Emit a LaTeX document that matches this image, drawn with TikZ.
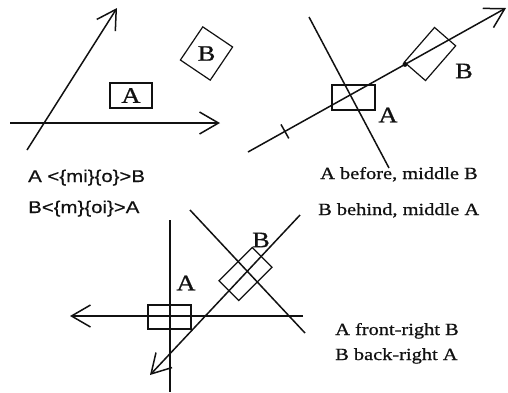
\documentclass[tikz,border=0pt]{standalone}
\usepackage{fontspec}
\setmainfont{Liberation Serif}[FakeStretch=1.2,FakeBold=0.8]
\newfontfamily\relsansfont{Liberation Sans}[FakeStretch=1.2,FakeBold=0.6]
\usetikzlibrary{arrows.meta,calc}
\definecolor{inkblack}{HTML}{111111}
\tikzset{
  axisline/.style={line width=1.5pt, color=inkblack},
  axisarrow/.style={axisline, -{Straight Barb[length=19pt,width=22pt]}},
  objbox/.style={rectangle, draw=inkblack, line width=1.2pt, inner sep=0pt},
  objname/.style={font=\fontsize{22}{24}\selectfont, inner sep=0pt, text=inkblack},
  dotmark/.style={circle, fill=inkblack, inner sep=0pt, minimum size=5pt},
  relnote/.style={font=\fontsize{17}{20}\selectfont, inner sep=0pt,
    anchor=base west, text=inkblack},
  relsans/.style={relnote, font=\relsansfont\fontsize{17}{20}\selectfont},
}

\begin{document}
\begin{tikzpicture}[x=1pt, y=-1pt]
  \useasboundingbox (0,0) rectangle (508,392);

  % first view: A and B apart
  \coordinate (h1s) at (10,123);
  \coordinate (h1e) at (220,123);
  \coordinate (d1s) at (27,150);
  \coordinate (d1e) at (117,8);
  \node[objbox, minimum width=42pt, minimum height=25pt] (a1) at (131,95.5) {};
  \node[objname] (a1l) at (a1) {A};
  \node[objbox, rotate=56, minimum width=40pt, minimum height=36pt] (b1) at (206.5,53.5) {};
  \node[objname] (b1l) at (b1) {B};
  \foreach \a/\b in {h1s/h1e,d1s/d1e}
    \draw[axisarrow] (\a) -- (\b);
  \node[relsans] (r1a) at (28,182) {A <\{mi\}\{o\}>B};
  \node[relsans] (r1b) at (28,213) {B<\{m\}\{oi\}>A};

  % second view: along one axis
  \coordinate (l2s) at (248,152);
  \coordinate (l2e) at (506,8);
  \coordinate (c2s) at (309,17);
  \coordinate (c2e) at (389,168);
  \coordinate (t2) at ($(l2s)!0.143!(l2e)$);
  \coordinate (t2a) at ($(t2)!8pt!90:(l2e)$);
  \coordinate (t2b) at ($(t2)!8pt!-90:(l2e)$);
  \draw[axisarrow] (l2s) -- (l2e);
  \foreach \a/\b in {c2s/c2e,t2a/t2b}
    \draw[axisline] (\a) -- (\b);
  \node[dotmark] (m2) at ($(l2s)!0.6085!(l2e)$) {};
  \node[objbox, minimum width=43pt, minimum height=25pt] (a2) at (353.5,97.5) {};
  \node[objbox, rotate=49, minimum width=46pt, minimum height=28pt] (b2) at (430,54) {};
  \node[objname] (a2l) at (388,115) {A};
  \node[objname] (b2l) at (464,71) {B};
  \node[relnote] (r2a) at (320,179) {A before, middle B};
  \node[relnote] (r2b) at (318,215) {B behind, middle A};

  % third view: front and right
  \coordinate (v3s) at (170,220);
  \coordinate (v3e) at (170,392);
  \coordinate (h3s) at (303,316);
  \coordinate (h3e) at (70,316);
  \coordinate (d3s) at (300,215);
  \coordinate (d3e) at (150,375);
  \coordinate (e3s) at (190,210);
  \coordinate (e3e) at (305,333);
  \foreach \a/\b in {h3s/h3e,d3s/d3e}
    \draw[axisarrow] (\a) -- (\b);
  \foreach \a/\b in {v3s/v3e,e3s/e3e}
    \draw[axisline] (\a) -- (\b);
  \node[objbox, minimum width=43pt, minimum height=24pt] (a3) at (169.5,317) {};
  \node[objbox, rotate=45, minimum width=47pt, minimum height=28pt] (b3) at (245.5,274) {};
  \node[objname] (a3l) at (186,283) {A};
  \node[objname] (b3l) at (261,240) {B};
  \node[relnote] (r3a) at (335,335) {A front-right B};
  \node[relnote] (r3b) at (335,360) {B back-right A};
\end{tikzpicture}
\end{document}
